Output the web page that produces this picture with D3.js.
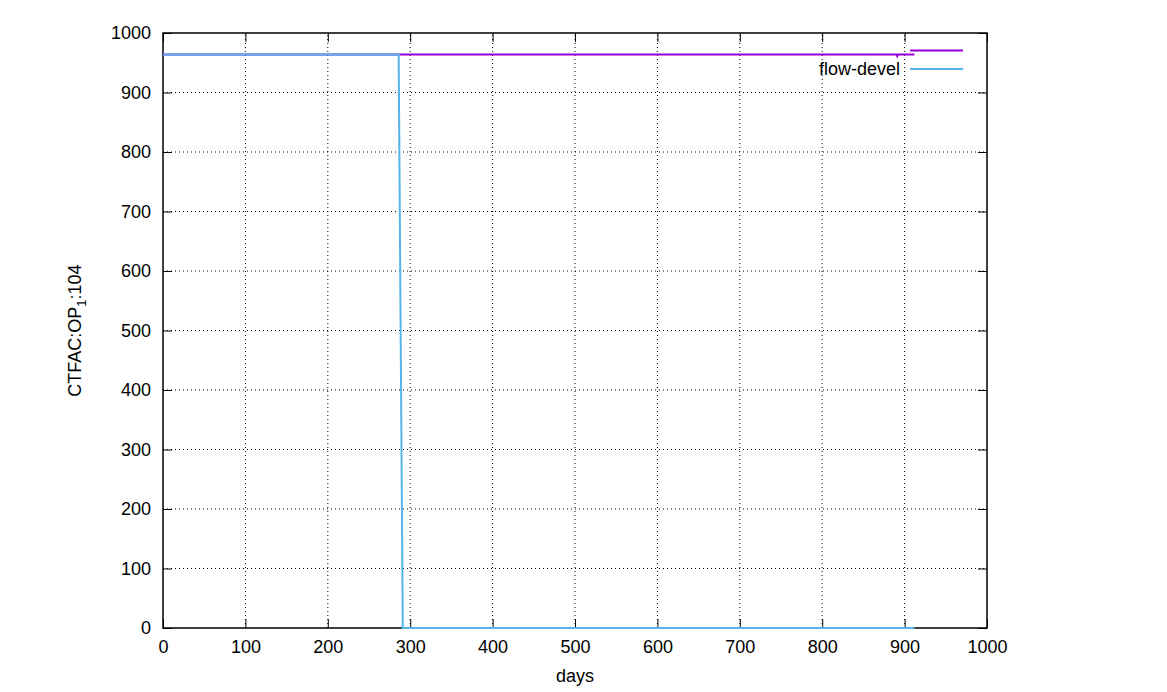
<!DOCTYPE html>
<html>
<head>
<meta charset="utf-8">
<script src="https://cdn.jsdelivr.net/npm/d3@7"></script>
<style>
  body { margin: 0; background: #fff; }
  svg text { font-family: "Liberation Sans", Arial, sans-serif; font-size: 18px; }
</style>
</head>
<body>
<div id="chart"></div>
<script>
// Data
var xTicks = [0, 100, 200, 300, 400, 500, 600, 700, 800, 900, 1000];
var yTicks = [0, 100, 200, 300, 400, 500, 600, 700, 800, 900, 1000];

// first series (no title)
var refDays = [0, 290, 600, 890, 891, 892, 912];
var refValues = [964, 964, 964, 964, 961, 964, 964];

// flow-devel
var develDays = [0, 286, 291, 600, 912];
var develValues = [964, 964, 0, 0, 0];

var seriesTitles = ["", "flow-devel"];
var seriesColors = ["#9400d3", "#56b4e9"];

// Build svg
const width = 1167, height = 692;
var padding = {top: 33, right: 180, bottom: 64, left: 163};

var svg = d3.select("#chart").append("svg")
    .attr("width", width)
    .attr("height", height);

var xScale = d3.scaleLinear()
    .domain([0, 1000])
    .range([padding.left, width - padding.right]);

var yScale = d3.scaleLinear()
    .domain([0, 1000])
    .range([height - padding.bottom, padding.top]);

// Grid lines (dotted)
svg.append("g")
    .selectAll("line")
    .data(xTicks.slice(1, -1))
    .enter().append("line")
    .attr("x1", d => xScale(d)).attr("x2", d => xScale(d))
    .attr("y1", yScale(0)).attr("y2", yScale(1000))
    .attr("stroke", "#000").attr("stroke-width", 1)
    .attr("stroke-dasharray", "1,3");

svg.append("g")
    .selectAll("line")
    .data(yTicks.slice(1, -1))
    .enter().append("line")
    .attr("x1", xScale(0)).attr("x2", xScale(1000))
    .attr("y1", d => yScale(d)).attr("y2", d => yScale(d))
    .attr("stroke", "#000").attr("stroke-width", 1)
    .attr("stroke-dasharray", "1,3");

// Axes with inward ticks, mirrored on top and right
function styleAxis(g) {
    g.select(".domain").remove();
    g.selectAll("text").attr("fill", "#000").style("font-size", "18px");
    g.selectAll("line").attr("stroke", "#000");
}

var fmt = d3.format("d");

svg.append("g")
    .attr("transform", "translate(0," + yScale(0) + ")")
    .call(d3.axisBottom(xScale).tickValues(xTicks).tickFormat(fmt).tickSizeInner(-9).tickSizeOuter(0).tickPadding(12))
    .call(styleAxis);

svg.append("g")
    .attr("transform", "translate(0," + yScale(1000) + ")")
    .call(d3.axisTop(xScale).tickValues(xTicks).tickSizeInner(-9).tickSizeOuter(0).tickFormat(""))
    .call(styleAxis);

svg.append("g")
    .attr("transform", "translate(" + xScale(0) + ",0)")
    .call(d3.axisLeft(yScale).tickValues(yTicks).tickFormat(fmt).tickSizeInner(-9).tickSizeOuter(0).tickPadding(12))
    .call(styleAxis);

svg.append("g")
    .attr("transform", "translate(" + xScale(1000) + ",0)")
    .call(d3.axisRight(yScale).tickValues(yTicks).tickSizeInner(-9).tickSizeOuter(0).tickFormat(""))
    .call(styleAxis);

// Border
svg.append("rect")
    .attr("x", xScale(0)).attr("y", yScale(1000))
    .attr("width", xScale(1000) - xScale(0))
    .attr("height", yScale(0) - yScale(1000))
    .attr("fill", "none").attr("stroke", "#000").attr("stroke-width", 1.5);

// Series lines
var line = d3.line().x(d => xScale(d[0])).y(d => yScale(d[1]));

svg.append("path")
    .datum(d3.zip(refDays, refValues))
    .attr("d", line)
    .attr("fill", "none")
    .attr("stroke", seriesColors[0])
    .attr("stroke-width", 2);

svg.append("path")
    .datum(d3.zip(develDays, develValues))
    .attr("d", line)
    .attr("fill", "none")
    .attr("stroke", seriesColors[1])
    .attr("stroke-width", 2);

// Legend
var legend = svg.append("g")
    .attr("transform", "translate(" + (xScale(1000) - 77) + "," + (yScale(1000) + 17.5) + ")");

seriesTitles.forEach(function (t, i) {
    var row = legend.append("g").attr("transform", "translate(0," + (i * 18.5) + ")");
    row.append("line")
        .attr("x1", 0).attr("x2", 53)
        .attr("y1", 0).attr("y2", 0)
        .attr("stroke", seriesColors[i]).attr("stroke-width", 2);
    row.append("text")
        .attr("x", -10).attr("y", 6)
        .attr("text-anchor", "end")
        .text(t);
});

// Axis labels
svg.append("text")
    .attr("x", (xScale(0) + xScale(1000)) / 2)
    .attr("y", 682)
    .attr("text-anchor", "middle")
    .text("days");

var ylab = svg.append("text")
    .attr("transform", "translate(81," + ((yScale(0) + yScale(1000)) / 2) + ") rotate(-90)")
    .attr("text-anchor", "middle");
ylab.append("tspan").text("CTFAC:OP");
ylab.append("tspan").attr("dy", 5).style("font-size", "13px").text("1");
ylab.append("tspan").attr("dy", -5).text(":104");
</script>
</body>
</html>
